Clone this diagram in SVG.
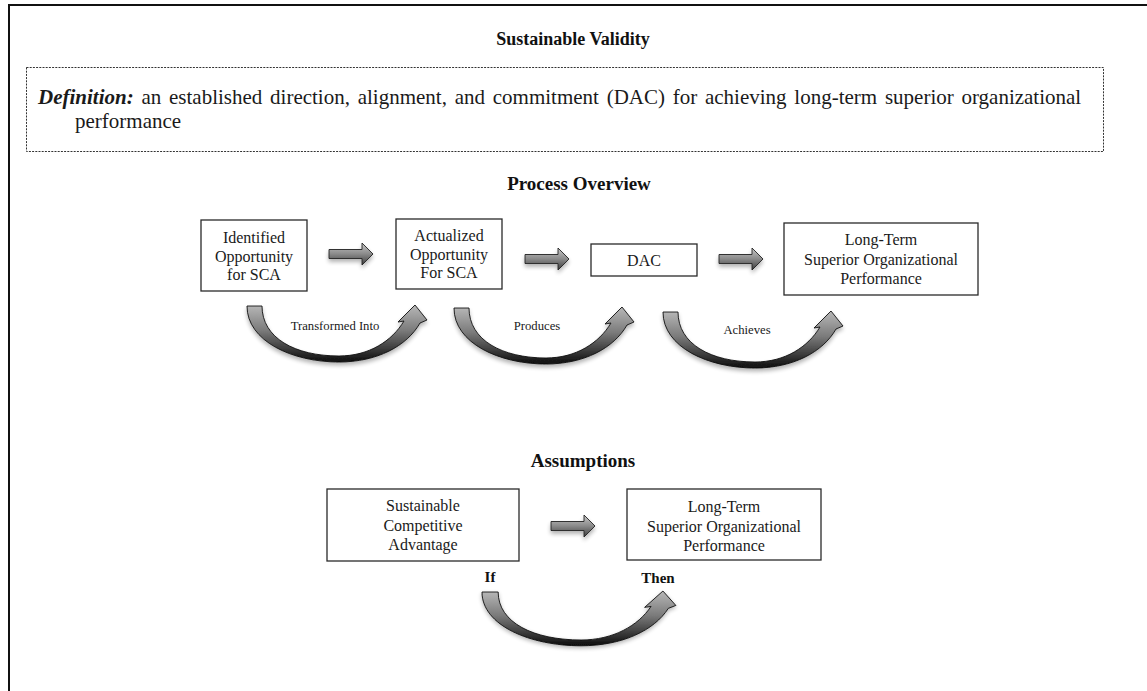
<svg xmlns="http://www.w3.org/2000/svg" width="1147" height="691" viewBox="0 0 1147 691">
  <style>
    .title { font-family: "Liberation Serif", "Times New Roman", serif; font-weight: bold; fill: #111; text-anchor: middle; }
    .body { font-family: "Liberation Serif", "Times New Roman", serif; fill: #1a1a1a; }
    .box { fill: #fff; stroke: #2a2a2a; stroke-width: 1.3; }
    .boxtext { font-family: "Liberation Serif", "Times New Roman", serif; font-size: 16px; fill: #1a1a1a; text-anchor: middle; }
    .label { font-family: "Liberation Serif", "Times New Roman", serif; font-size: 12.7px; fill: #1a1a1a; text-anchor: middle; }
    .block { fill: url(#blockGrad); stroke: #222; stroke-width: 0.9; }
    .curve { fill: url(#curveGrad); stroke: #111; stroke-width: 0.9; }
  </style>
  <defs>
    <linearGradient id="blockGrad" x1="0" y1="0" x2="0" y2="1">
      <stop offset="0" stop-color="#c8c8c8"/>
      <stop offset="0.5" stop-color="#8a8a8a"/>
      <stop offset="1" stop-color="#3c3c3c"/>
    </linearGradient>
    <linearGradient id="curveGrad" x1="0" y1="0" x2="0" y2="1">
      <stop offset="0" stop-color="#b8b8b8"/>
      <stop offset="0.45" stop-color="#7a7a7a"/>
      <stop offset="1" stop-color="#0d0d0d"/>
    </linearGradient>
    <filter id="soft" x="-20%" y="-20%" width="140%" height="160%">
      <feGaussianBlur in="SourceAlpha" stdDeviation="2"/>
      <feOffset dx="0" dy="2.5" result="blur"/>
      <feComponentTransfer><feFuncA type="linear" slope="0.3"/></feComponentTransfer>
      <feMerge><feMergeNode/><feMergeNode in="SourceGraphic"/></feMerge>
    </filter>
    <!-- straight block arrow, origin at left end of shaft centre line -->
    <path id="blockArrow" d="M0,-4.5 L33,-4.5 L33,-11 L44,0 L33,11 L33,4.5 L0,4.5 Z"/>
    <!-- curved U-turn arrow, origin at top-left of its tail -->
    <path id="curveArrow" d="M0,0 C0,35 45,56 92,56 C130,56 160,40 173,17 L180,14 L168,-1 L151,16 L157,15 C145,35 122,50 92,50 C48,50 15,32 15,0 Z"/>
  </defs>

  <rect width="1147" height="691" fill="#fff"/>

  <!-- page frame -->
  <path d="M9,691 L9,5 L1147,5" fill="none" stroke="#111" stroke-width="2"/>

  <text class="title" x="573" y="45" font-size="18">Sustainable Validity</text>

  <g id="definition">
    <rect x="26.5" y="67.5" width="1077" height="84" fill="none" stroke="#333" stroke-width="1" stroke-dasharray="2 1.2"/>
    <!-- first line is justified across the box -->
    <text class="body" x="38" y="104" font-size="21" word-spacing="2.5"><tspan font-weight="bold" font-style="italic">Definition:</tspan> an established direction, alignment, and commitment (DAC) for achieving long-term superior organizational</text>
    <text class="body" x="75" y="128" font-size="21">performance</text>
  </g>

  <text class="title" x="579" y="190" font-size="19">Process Overview</text>

  <g id="node-identified">
    <rect class="box" x="201" y="220" width="106" height="71"/>
    <text class="boxtext" x="254" y="243">Identified</text>
    <text class="boxtext" x="254" y="261.5">Opportunity</text>
    <text class="boxtext" x="254" y="280">for SCA</text>
  </g>
  <g id="node-actualized">
    <rect class="box" x="396" y="219" width="106" height="70"/>
    <text class="boxtext" x="449" y="241">Actualized</text>
    <text class="boxtext" x="449" y="259.5">Opportunity</text>
    <text class="boxtext" x="449" y="278">For SCA</text>
  </g>
  <g id="node-dac">
    <rect class="box" x="591" y="244" width="106" height="32"/>
    <text class="boxtext" x="644" y="266">DAC</text>
  </g>
  <g id="node-performance">
    <rect class="box" x="784" y="223" width="194" height="72"/>
    <text class="boxtext" x="881" y="245">Long-Term</text>
    <text class="boxtext" x="881" y="264.5">Superior Organizational</text>
    <text class="boxtext" x="881" y="284">Performance</text>
  </g>

  <text class="title" x="583" y="467" font-size="19">Assumptions</text>

  <g id="node-sca">
    <rect class="box" x="327" y="489" width="192" height="72"/>
    <text class="boxtext" x="423" y="511">Sustainable</text>
    <text class="boxtext" x="423" y="530.5">Competitive</text>
    <text class="boxtext" x="423" y="550">Advantage</text>
  </g>
  <g id="node-performance-2">
    <rect class="box" x="627" y="489" width="194" height="71"/>
    <text class="boxtext" x="724" y="512">Long-Term</text>
    <text class="boxtext" x="724" y="531.5">Superior Organizational</text>
    <text class="boxtext" x="724" y="551">Performance</text>
  </g>

  <g id="connectors">
    <use href="#blockArrow" class="block" filter="url(#soft)" transform="translate(329,254)"/>
    <use href="#blockArrow" class="block" filter="url(#soft)" transform="translate(525,259)"/>
    <use href="#blockArrow" class="block" filter="url(#soft)" transform="translate(719,259)"/>
    <use href="#blockArrow" class="block" filter="url(#soft)" transform="translate(551,526)"/>

    <use href="#curveArrow" class="curve" filter="url(#soft)" transform="translate(247,306)"/>
    <use href="#curveArrow" class="curve" filter="url(#soft)" transform="translate(454,308)"/>
    <use href="#curveArrow" class="curve" filter="url(#soft)" transform="translate(663,312)"/>
    <use href="#curveArrow" class="curve" filter="url(#soft)" transform="translate(482,592) scale(1.077,0.96)"/>

    <text class="label" x="335" y="330">Transformed Into</text>
    <text class="label" x="537" y="330">Produces</text>
    <text class="label" x="747" y="334">Achieves</text>
    <text class="title" x="490" y="582" font-size="15">If</text>
    <text class="title" x="658" y="583" font-size="15">Then</text>
  </g>
</svg>
